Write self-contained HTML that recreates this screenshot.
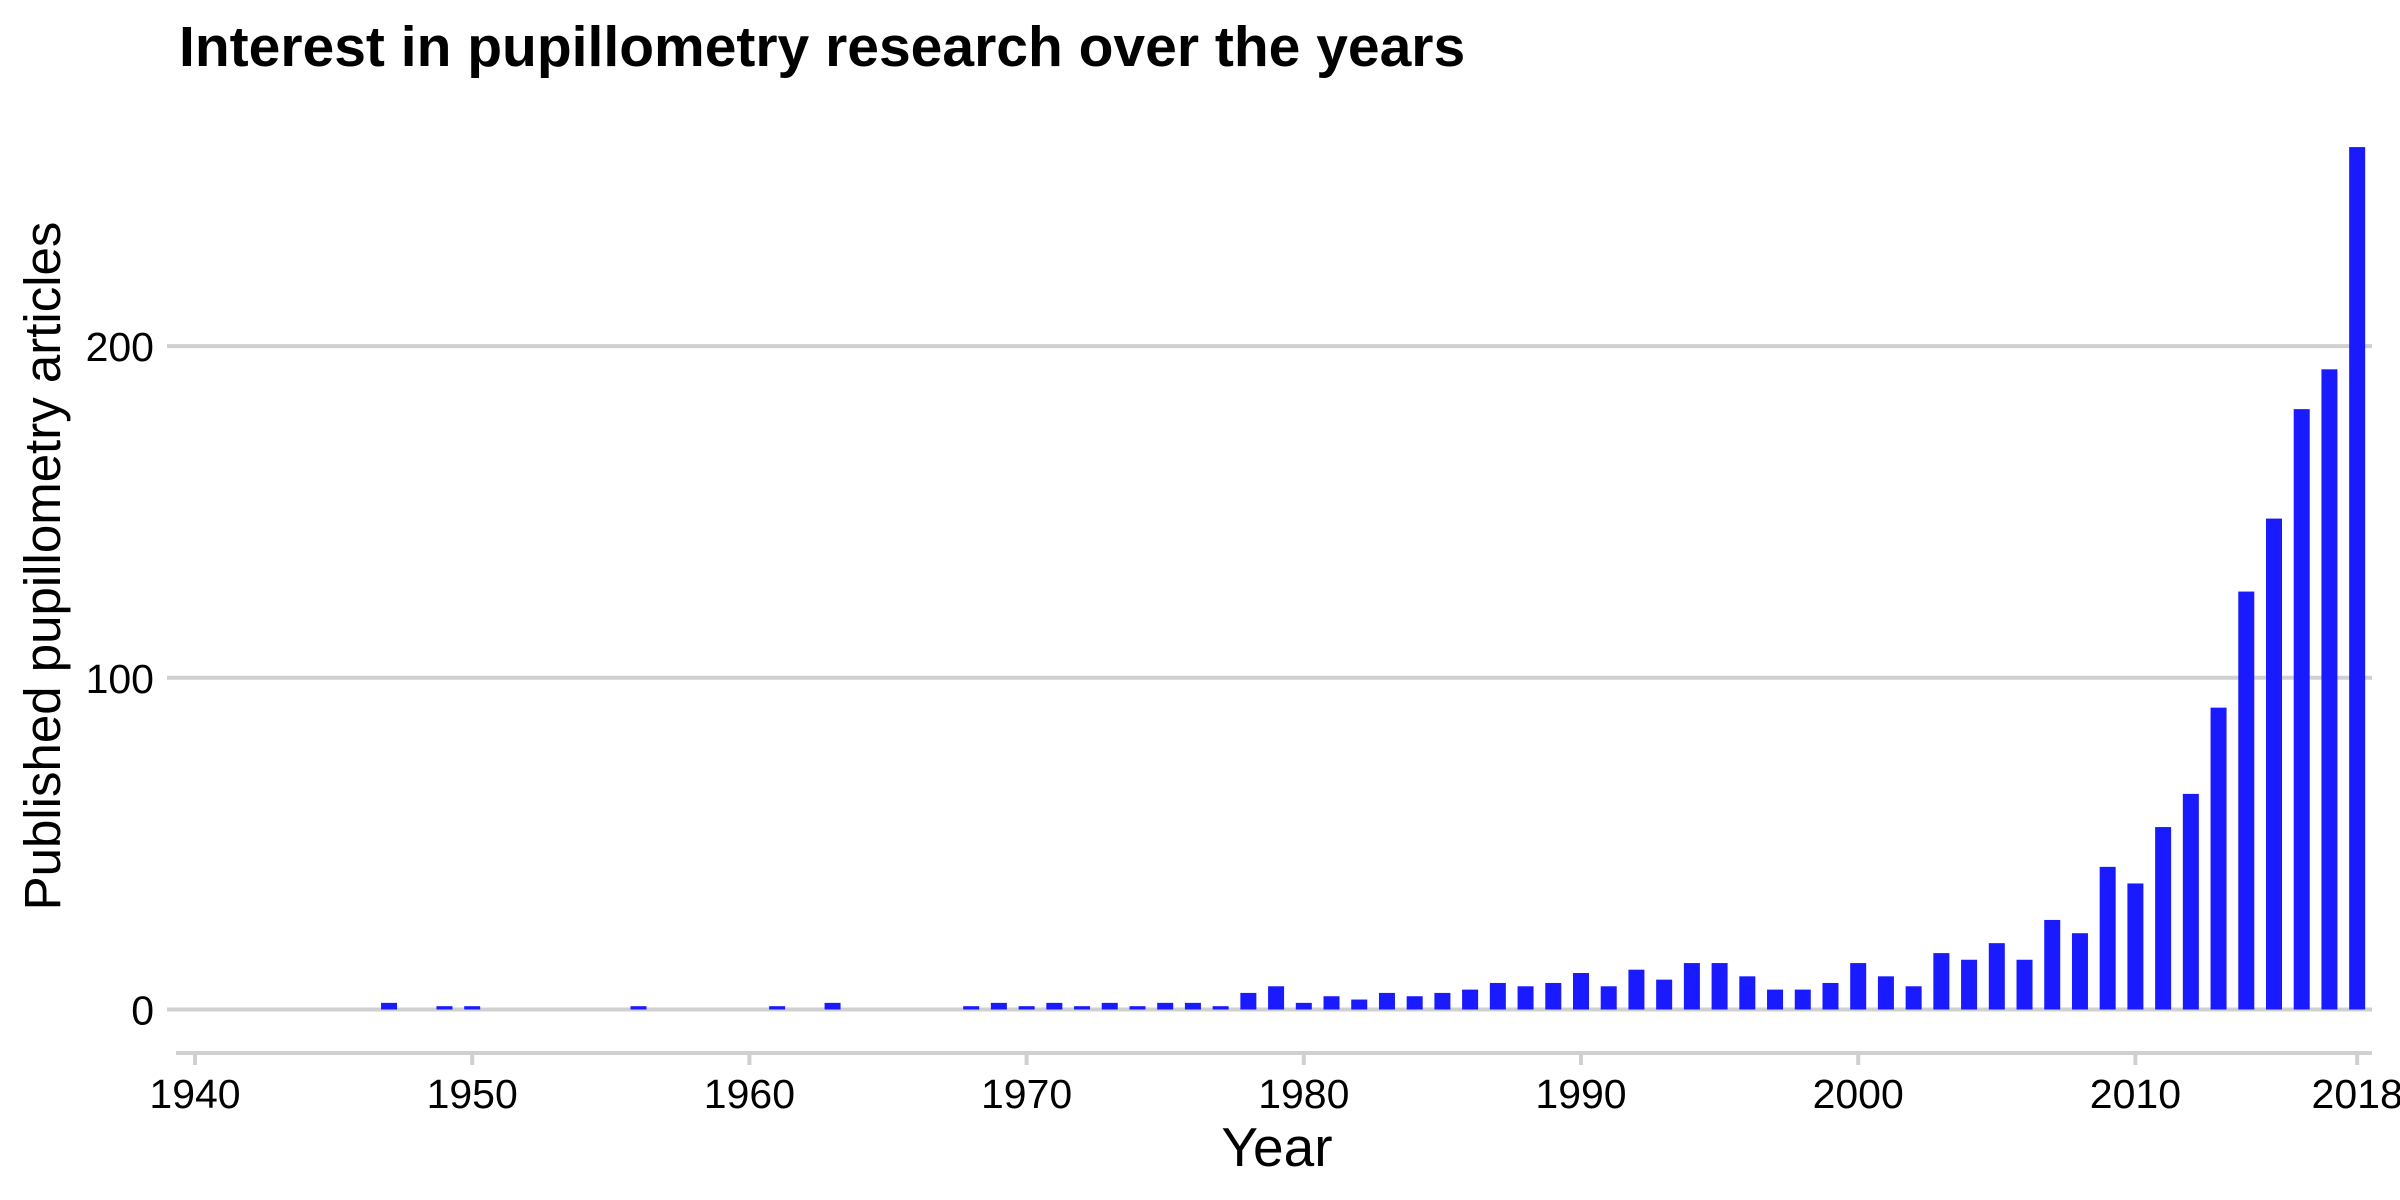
<!DOCTYPE html>
<html><head><meta charset="utf-8"><style>
html,body{margin:0;padding:0;background:#fff;}
svg{display:block;font-family:"Liberation Sans",Arial,sans-serif;}
</style></head><body>
<svg id="chart" width="2400" height="1200" xmlns="http://www.w3.org/2000/svg">
<text x="179" y="66" font-size="57" font-weight="bold" fill="#000">Interest in pupillometry research over the years</text>
<text transform="translate(60,566) rotate(-90)" text-anchor="middle" font-size="51" fill="#000">Published pupillometry articles</text>
<text x="1277" y="1166" text-anchor="middle" font-size="55" fill="#000">Year</text>
<g id="grid"></g><g id="bars"></g><g id="xaxis"></g><g id="yaxis"></g>
</svg>
<script>
const years = [1947,1949,1950,1956,1961,1963,1968,1969,1970,1971,1972,1973,1974,1975,1976,1977,1978,1979,1980,1981,1982,1983,1984,1985,1986,1987,1988,1989,1990,1991,1992,1993,1994,1995,1996,1997,1998,1999,2000,2001,2002,2003,2004,2005,2006,2007,2008,2009,2010,2011,2012,2013,2014,2015,2016,2017,2018];
const counts = [2,1,1,1,1,2,1,2,1,2,1,2,1,2,2,1,5,7,2,4,3,5,4,5,6,8,7,8,11,7,12,9,14,14,10,6,6,8,14,10,7,17,15,20,15,27,23,43,38,55,65,91,126,148,181,193,260];
const yTicks = [0,100,200];
const xTicks = [1940,1950,1960,1970,1980,1990,2000,2010,2018];

const NS="http://www.w3.org/2000/svg";
const x = yr => 195 + (yr-1940)*27.72;
const y = v => 1009.5 - v*3.317;
const bw = 16;
function mk(tag, attrs, parent){const e=document.createElementNS(NS,tag);for(const k in attrs)e.setAttribute(k,attrs[k]);parent.appendChild(e);return e;}
const grid=document.getElementById('grid'),bars=document.getElementById('bars'),xa=document.getElementById('xaxis'),ya=document.getElementById('yaxis');
yTicks.forEach(t=>{
  const l=mk('line',{x1:167,x2:2372,y1:y(t),y2:y(t),stroke:'#d0d0d0','stroke-width':4},grid);
  
  
  const tx=mk('text',{x:154,y:y(t)+15,'text-anchor':'end','font-size':41,fill:'#000'},ya);
  tx.textContent=t;
  
  
});
years.forEach((yr,i)=>{
  const r=mk('rect',{x:x(yr)-bw/2,y:y(counts[i]),width:bw,height:y(0)-y(counts[i]),fill:'#1a1aff'},bars);
  
  
});
const al=mk('line',{x1:176,x2:2372,y1:1053,y2:1053,stroke:'#d0d0d0','stroke-width':4},xa);


xTicks.forEach(t=>{
  const tk=mk('line',{x1:x(t),x2:x(t),y1:1053,y2:1065,stroke:'#d0d0d0','stroke-width':4},xa);
  
  
  const tx=mk('text',{x:x(t),y:1108,'text-anchor':'middle','font-size':41,fill:'#000'},xa);
  tx.textContent=t;
  
  
});
</script>
</body></html>
